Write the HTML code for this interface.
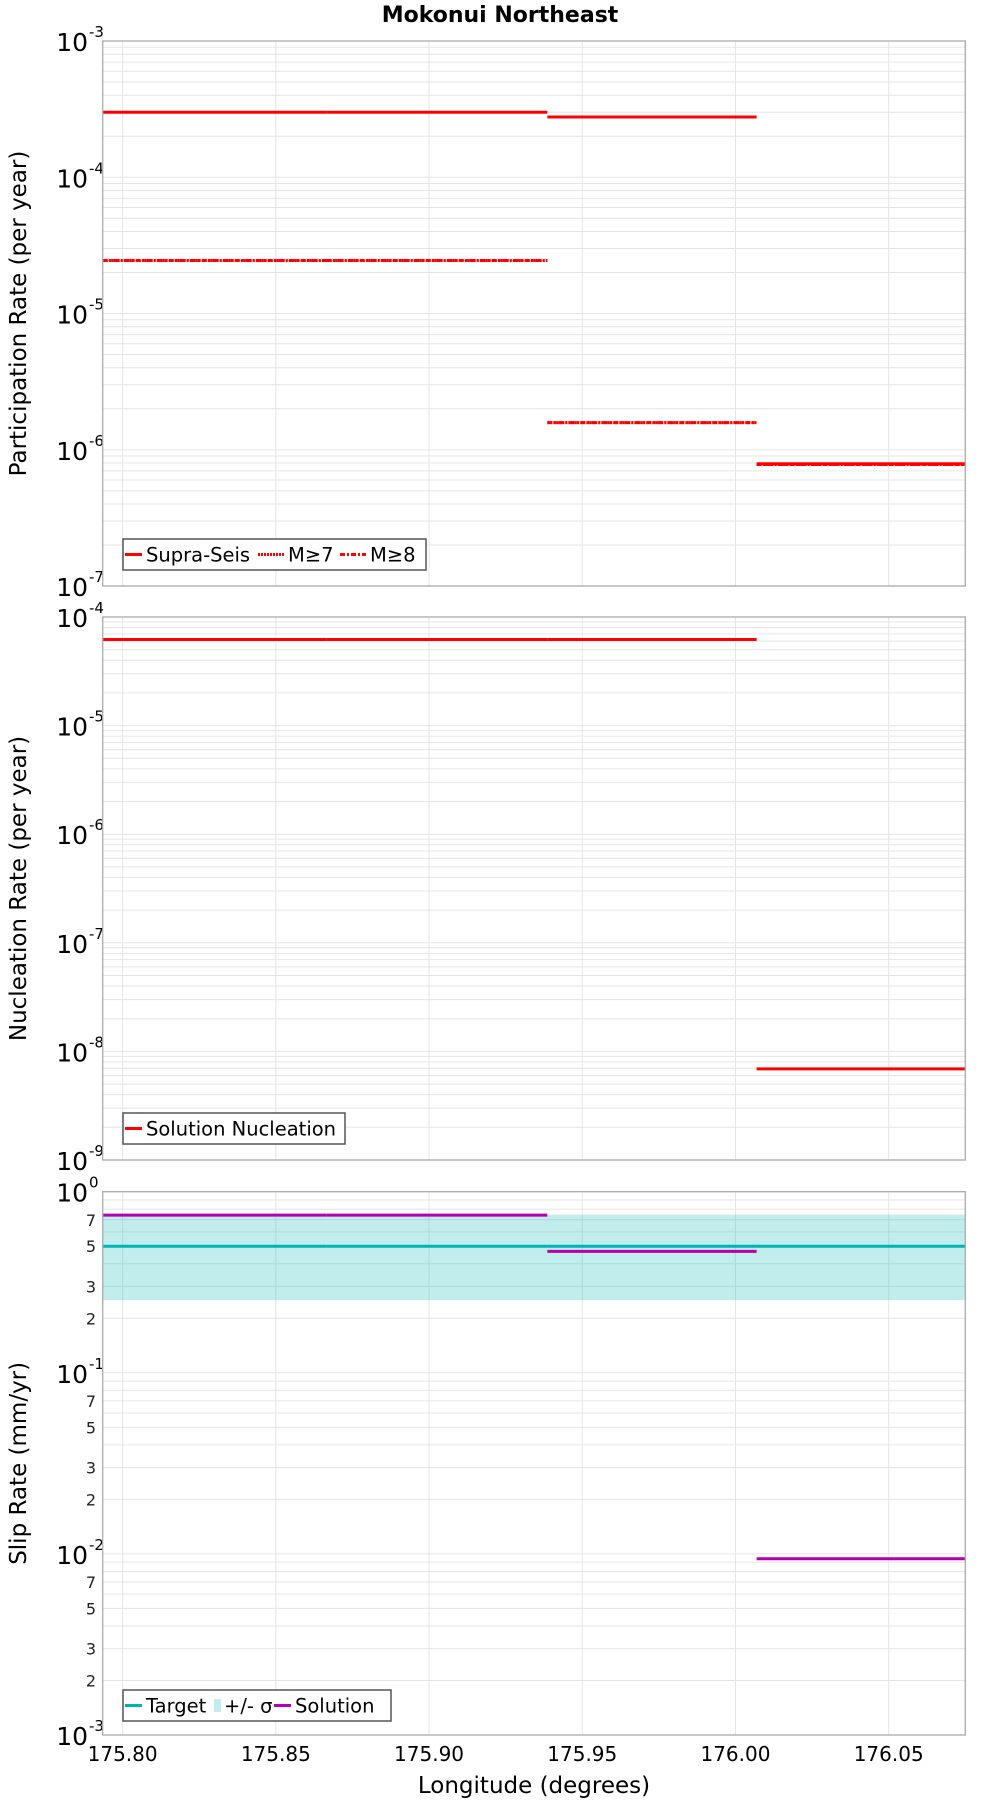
<!DOCTYPE html>
<html><head><meta charset="utf-8"><style>
body{margin:0;background:#fff;}
svg{display:block;font-family:"DejaVu Sans","Liberation Sans",sans-serif;}
</style></head><body>
<svg id="chart" width="1000" height="1800" viewBox="0 0 1000 1800">
<text x="500" y="22" text-anchor="middle" font-size="22" font-weight="bold">Mokonui Northeast</text>
<g id="p1"></g>
<g id="p2"></g>
<g id="p3"></g>
<g id="xaxis"></g>
</svg>
<script>
const segBounds = [175.7935, 175.8666, 175.9386, 176.0069, 176.075];
const xTicks = [175.80, 175.85, 175.90, 175.95, 176.00, 176.05];
const xTickLabels = ["175.80","175.85","175.90","175.95","176.00","176.05"];
const supraSeis = [3.0e-4, 3.0e-4, 2.77e-4, 7.9e-7];
const m7 = [2.45e-5, 2.45e-5, 1.58e-6, 7.8e-7];
const m8 = [2.45e-5, 2.45e-5, 1.58e-6, 7.8e-7];
const nucleation = [6.2e-5, 6.2e-5, 6.2e-5, 6.9e-9];
const targetSlip = [0.5, 0.5, 0.5, 0.5];
const sigmaLow = [0.252, 0.252, 0.252, 0.252];
const sigmaHigh = [0.747, 0.747, 0.747, 0.747];
const solutionSlip = [0.742, 0.742, 0.468, 0.0094];

const NS = "http://www.w3.org/2000/svg";
const L = 102.7, R = 965.3;
const X0 = 175.7935, X1 = 176.075;
function xs(v){ return L + (v - X0) / (X1 - X0) * (R - L); }
function mk(tag, attrs, parent){ const e = document.createElementNS(NS, tag); for (const k in attrs) e.setAttribute(k, attrs[k]); parent.appendChild(e); return e; }

function panel(g, top, bot, dmax, dmin, minorLabels, yTitle){
  const ys = v => top + (dmax - Math.log10(v)) / (dmax - dmin) * (bot - top);
  const grid = mk('g', {}, g);
  
  
  for (let d = dmin; d < dmax; d++) {
    for (let m = 1; m < 10; m++) {
      const v = m * Math.pow(10, d);
      const y = ys(v);
      mk('line', {x1: L, x2: R, y1: y, y2: y, stroke: '#e6e6e6', 'stroke-width': 1}, grid);
      if (m > 1 && minorLabels && [2,3,5,7].includes(m)) {
        const t = mk('text', {x: 96, y: y + 6, 'text-anchor': 'end', 'font-size': 16, fill: '#222'}, g);
        t.textContent = m;
        
        
      }
    }
  }
  xTicks.forEach(v => mk('line', {x1: xs(v), x2: xs(v), y1: top, y2: bot, stroke: '#e6e6e6', 'stroke-width': 1}, grid));
  for (let d = dmin; d <= dmax; d++) {
    const y = ys(Math.pow(10, d));
    const t = mk('text', {x: 88, y: y + 10, 'text-anchor': 'end', 'font-size': 25}, g);
    t.textContent = '10';
    
    
    const s = mk('text', {x: 89, y: y - 4, 'font-size': 15}, g);
    s.textContent = String(d);
    
    
  }
  const yt = mk('text', {x: 0, y: 0, 'text-anchor': 'middle', 'font-size': 23, transform: `translate(26,${(top+bot)/2}) rotate(-90)`}, g);
  yt.textContent = yTitle;
  
  
  return ys;
}
function frame(g, top, bot){
  const r = mk('rect', {x: L, y: top, width: R - L, height: bot - top, fill: 'none', stroke: '#aaa', 'stroke-width': 1.3}, g);
  
  
}
function steps(g, vals, ys, color, dash, w, name){
  vals.forEach((v, i) => {
    const y = ys(v);
    const a = {x1: xs(segBounds[i]), x2: xs(segBounds[i+1]), y1: y, y2: y, stroke: color, 'stroke-width': w};
    if (dash) a['stroke-dasharray'] = dash;
    const l = mk('line', a, g);
    
    
  });
}
function legend(g, x, y, w, items){
  const box = mk('rect', {x: x, y: y, width: w, height: 31, fill: '#fff', stroke: '#555', 'stroke-width': 1.5}, g);
  
  
  let cx = x + 2;
  items.forEach(it => {
    if (it.band) {
      const r = mk('rect', {x: cx + 2, y: y + 9, width: 7, height: 13, fill: it.color}, g);
      
      
      cx += 12;
    } else {
      const ll = it.ll || 17;
      const a = {x1: cx, x2: cx + ll, y1: y + 15.5, y2: y + 15.5, stroke: it.color, 'stroke-width': 3};
      if (it.dash) a['stroke-dasharray'] = it.dash;
      const l = mk('line', a, g);
      
      
      cx += ll + 4;
    }
    const t = mk('text', {x: cx, y: y + 22.5, 'font-size': 19.5}, g);
    t.textContent = it.label;
    
    
    cx += it.tw;
  });
}

// Panel 1
const g1 = document.getElementById('p1');
const ys1 = panel(g1, 41, 586, -3, -7, false, 'Participation Rate (per year)');
steps(g1, supraSeis, ys1, '#ff0000', null, 3, 'supra-seis-line');
steps(g1, m7, ys1, '#ff0000', '2,1', 3, 'm7-line');
steps(g1, m8, ys1, '#ff0000', '5,2,2,2', 3, 'm8-line');
frame(g1, 41, 586);
legend(g1, 123, 539, 303, [{color:'#ff0000',label:'Supra-Seis',tw:112},{color:'#ff0000',dash:'2,1',ll:26,label:'M≥7',tw:52},{color:'#ff0000',dash:'5,2,2,2',ll:26,label:'M≥8',tw:50}]);

// Panel 2
const g2 = document.getElementById('p2');
const ys2 = panel(g2, 617, 1160, -4, -9, false, 'Nucleation Rate (per year)');
steps(g2, nucleation, ys2, '#ff0000', null, 3, 'solution-nucleation-line');
frame(g2, 617, 1160);
legend(g2, 123, 1113, 222, [{color:'#ff0000',label:'Solution Nucleation',tw:195}]);

// Panel 3
const g3 = document.getElementById('p3');
const ys3 = panel(g3, 1191.7, 1735, 0, -3, true, 'Slip Rate (mm/yr)');
sigmaHigh.forEach((v, i) => {
  const r = mk('rect', {x: xs(segBounds[i]), y: ys3(v), width: xs(segBounds[i+1]) - xs(segBounds[i]), height: ys3(sigmaLow[i]) - ys3(v), fill: 'rgba(0,178,178,0.24)'}, g3);
  
  
});
steps(g3, targetSlip, ys3, '#00b4b4', null, 3, 'target-line');
steps(g3, solutionSlip, ys3, '#b400b4', null, 3, 'solution-line');
frame(g3, 1191.7, 1735);
legend(g3, 123, 1690, 268, [{color:'#00b4b4',label:'Target',tw:66},{color:'#c3ecec',band:true,label:'+/- σ',tw:50},{color:'#b400b4',label:'Solution',tw:80}]);

// X axis
const gx = document.getElementById('xaxis');
xTicks.forEach((v, i) => {
  const t = mk('text', {x: xs(v), y: 1761, 'text-anchor': 'middle', 'font-size': 20}, gx);
  t.textContent = xTickLabels[i];
  
  
});
const xt = mk('text', {x: (L + R) / 2, y: 1793, 'text-anchor': 'middle', 'font-size': 23}, gx);
xt.textContent = 'Longitude (degrees)';


</script>
</body></html>
